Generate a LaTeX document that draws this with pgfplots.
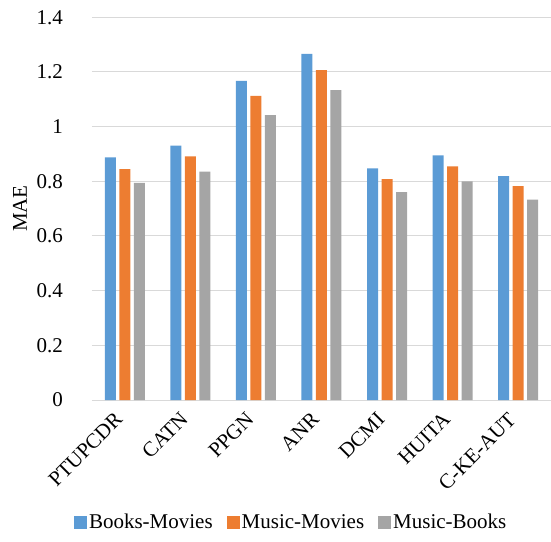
\documentclass[border=0pt]{standalone}
\usepackage{pgfplots}
\pgfplotsset{compat=1.18}
\usepackage{fontspec}
\setmainfont{Liberation Serif}

\definecolor{cblue}{HTML}{5B9BD5}
\definecolor{corange}{HTML}{ED7D31}
\definecolor{cgray}{HTML}{A5A5A5}
\definecolor{gridgray}{HTML}{D9D9D9}

\begin{document}
\rmfamily\fontsize{21}{25}\selectfont
\begin{tikzpicture}
\path[use as bounding box] (-92pt,-141pt) rectangle (459pt,400pt);
\begin{axis}[
    scale only axis,
    width=459pt, height=382.7pt,
    at={(0pt,0pt)}, anchor=south west,
    ybar=3.5pt,
    bar width=11pt,
    ymin=0, ymax=1.4,
    ytick={0,0.2,...,1.4},
    xmin=-0.5, xmax=6.5,
    xtick=data,
    xticklabels={PTUPCDR,CATN,PPGN,ANR,DCMI,HUITA,C-KE-AUT},
    x tick label style={xshift=-11pt, yshift=-8pt, rotate=45, anchor=north east, inner sep=2pt},
    yticklabel style={xshift=-22pt},
    /pgf/number format/assume math mode=true,
    major tick length=0pt,
    ymajorgrids,
    grid style={gridgray, line width=1pt},
    axis x line*=bottom,
    axis y line*=left,
    y axis line style={draw=none},
    x axis line style={gridgray, line width=1pt},
    ylabel={MAE},
    ylabel style={at={(axis description cs:-0.157,0.5)}, anchor=center},
    legend columns=3,
    legend style={draw=none, at={(axis description cs:0.434,-0.321)}, anchor=center,
        /tikz/every even column/.append style={column sep=12pt},
        nodes={inner sep=2pt}},
    legend image code/.code={\fill[#1] (0pt,-6.5pt) rectangle (13pt,6.5pt);},
]
\addplot[fill=cblue, draw=none] coordinates {(0,0.888) (1,0.931) (2,1.167) (3,1.266) (4,0.847) (5,0.895) (6,0.819)};
\addplot[fill=corange, draw=none] coordinates {(0,0.845) (1,0.891) (2,1.113) (3,1.207) (4,0.808) (5,0.855) (6,0.782)};
\addplot[fill=cgray, draw=none] coordinates {(0,0.794) (1,0.835) (2,1.042) (3,1.134) (4,0.760) (5,0.800) (6,0.733)};
\legend{Books-Movies,Music-Movies,Music-Books}
\end{axis}
\end{tikzpicture}
\end{document}
